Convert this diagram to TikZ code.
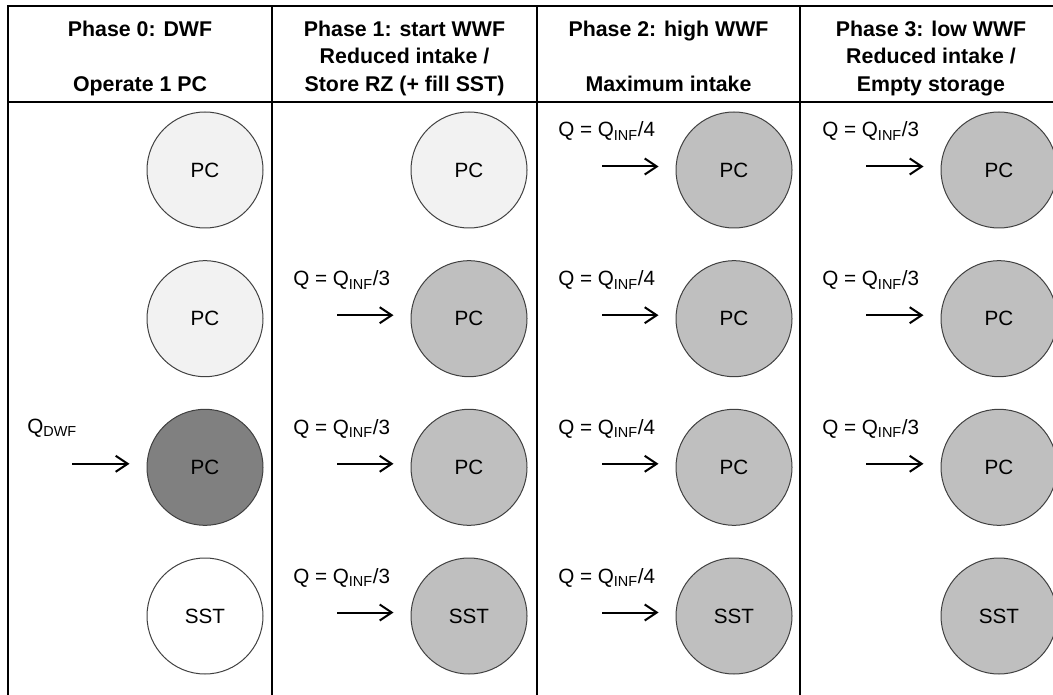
\documentclass[tikz,border=0pt]{standalone}
\usepackage{fontspec}
\setmainfont{Liberation Sans}
\usetikzlibrary{arrows.meta}

\tikzset{
  unit/.style={circle,draw=black!75,line width=.75pt,minimum size=87pt,inner sep=0pt},
  pcidle/.style={unit,fill=black!5},
  pcon/.style={unit,fill=black!25},
  pcdwf/.style={unit,fill=black!50},
  sstidle/.style={unit,fill=white},
  flow/.style={-{Straight Barb[length=9pt,width=12pt,line width=1.5pt]},line width=1.5pt,shorten >=12.75pt},
  qlab/.style={anchor=base west,inner sep=0pt},
  head/.style={align=center,anchor=north,inner sep=0pt,font=\fontsize{16}{20.6}\selectfont\bfseries},
  grid/.style={line width=1.5pt}
}

\begin{document}
\begin{tikzpicture}[x=0.75pt,y=-0.75pt,font=\fontsize{15.5}{20.6}\selectfont]
	\useasboundingbox (0,0) rectangle (1053,695);
	\clip (0,0) rectangle (1053,695);
	\def\rA{170} \def\rB{318.7} \def\rC{467.3} \def\rD{616}
	% table
	\draw[grid] (1060,6)--(8,6)--(8,700);
	\draw[grid] (8,102)--(1060,102);
	\draw[grid] (272,6)--(272,700) (537,6)--(537,700) (800,6)--(800,700);
	% headers
	\node[head] (h0) at (140,20.5) {Phase 0: DWF\\ \strut\\Operate 1 PC};
	\node[head] (h1) at (404.5,20.5) {Phase 1: start WWF\\Reduced intake /\\Store RZ (+ fill SST)};
	\node[head] (h2) at (668.5,20.5) {Phase 2: high WWF\\ \strut\\Maximum intake};
	\node[head] (h3) at (931,20.5) {Phase 3: low WWF\\Reduced intake /\\Empty storage};
	% phase 0
	\node[pcidle] (p01) at (205,\rA) {PC};
	\node[pcidle] (p02) at (205,\rB) {PC};
	\node[pcdwf] (p03) at (205,\rC) {PC};
	\node[sstidle] (p04) at (205,\rD) {SST};
	\node[qlab] (q03) at (27,\rC-34) {Q\textsubscript{DWF}};
	\coordinate (s03) at (72,\rC-3.5);
	\draw[flow] (s03)--(s03-|p03.west);
	% phase 1
	\node[pcidle] (p11) at (469,\rA) {PC};
	\node[pcon] (p12) at (469,\rB) {PC};
	\node[pcon] (p13) at (469,\rC) {PC};
	\node[pcon] (p14) at (469,\rD) {SST};
	\node[qlab] (q12) at (293,\rB-33) {Q = Q\textsubscript{INF}/3};
	\node[qlab] (q13) at (293,\rC-33) {Q = Q\textsubscript{INF}/3};
	\node[qlab] (q14) at (293,\rD-33) {Q = Q\textsubscript{INF}/3};
	\coordinate (s12) at (337,\rB-3.5);
	\coordinate (s13) at (337,\rC-3.5);
	\coordinate (s14) at (337,\rD-3.5);
	\draw[flow] (s12)--(s12-|p12.west);
	\draw[flow] (s13)--(s13-|p13.west);
	\draw[flow] (s14)--(s14-|p14.west);
	% phase 2
	\node[pcon] (p21) at (734,\rA) {PC};
	\node[pcon] (p22) at (734,\rB) {PC};
	\node[pcon] (p23) at (734,\rC) {PC};
	\node[pcon] (p24) at (734,\rD) {SST};
	\node[qlab] (q21) at (558,\rA-33) {Q = Q\textsubscript{INF}/4};
	\node[qlab] (q22) at (558,\rB-33) {Q = Q\textsubscript{INF}/4};
	\node[qlab] (q23) at (558,\rC-33) {Q = Q\textsubscript{INF}/4};
	\node[qlab] (q24) at (558,\rD-33) {Q = Q\textsubscript{INF}/4};
	\coordinate (s21) at (602,\rA-3.5);
	\coordinate (s22) at (602,\rB-3.5);
	\coordinate (s23) at (602,\rC-3.5);
	\coordinate (s24) at (602,\rD-3.5);
	\draw[flow] (s21)--(s21-|p21.west);
	\draw[flow] (s22)--(s22-|p22.west);
	\draw[flow] (s23)--(s23-|p23.west);
	\draw[flow] (s24)--(s24-|p24.west);
	% phase 3
	\node[pcon] (p31) at (999,\rA) {PC};
	\node[pcon] (p32) at (999,\rB) {PC};
	\node[pcon] (p33) at (999,\rC) {PC};
	\node[pcon] (p34) at (999,\rD) {SST};
	\node[qlab] (q31) at (822,\rA-33) {Q = Q\textsubscript{INF}/3};
	\node[qlab] (q32) at (822,\rB-33) {Q = Q\textsubscript{INF}/3};
	\node[qlab] (q33) at (822,\rC-33) {Q = Q\textsubscript{INF}/3};
	\coordinate (s31) at (866,\rA-3.5);
	\coordinate (s32) at (866,\rB-3.5);
	\coordinate (s33) at (866,\rC-3.5);
	\draw[flow] (s31)--(s31-|p31.west);
	\draw[flow] (s32)--(s32-|p32.west);
	\draw[flow] (s33)--(s33-|p33.west);
\end{tikzpicture}
\end{document}
